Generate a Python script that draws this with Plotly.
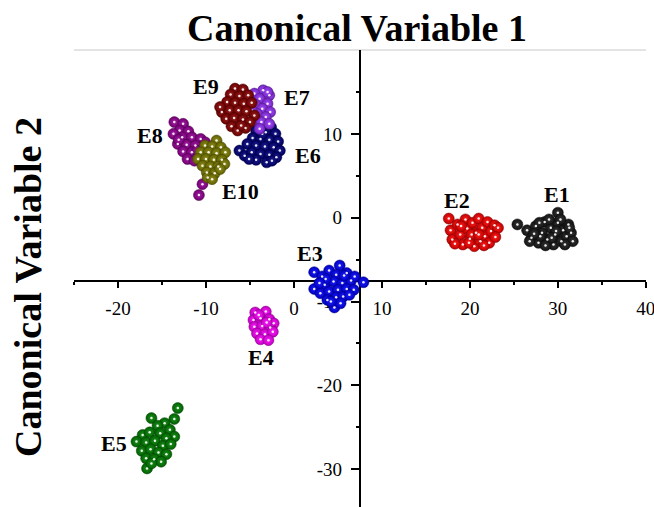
import plotly.graph_objects as go

# ---- data ----
groups = ["E1", "E2", "E3", "E4", "E5", "E6", "E7", "E8", "E9", "E10"]
colors = ["#1a1a1a", "#ff0000", "#0000ff", "#ff00ff", "#008000",
          "#000080", "#9933ff", "#990099", "#8b0000", "#808000"]

E1_x = [25.4, 26.5, 27.0, 27.5, 27.8, 28.2, 28.5, 28.8, 29.2, 29.5, 29.7, 30.0, 30.0, 30.4, 30.6,
        31.0, 31.2, 31.5, 31.7, 29.0, 28.0, 26.8, 27.3, 29.8, 30.8, 31.3, 28.6, 29.3, 30.3, 27.9]
E1_y = [-0.8, -1.5, -2.4, -1.0, -3.0, -1.8, -0.5, -2.6, -1.2, -3.2, -2.0, 0.6, -0.6, -2.8, -1.5,
        -2.2, -0.8, -1.8, -2.8, -0.2, -2.2, -2.8, -1.9, -1.6, -3.2, -1.2, -3.3, -2.4, -0.2, -0.6]

E2_x = [17.6, 17.8, 18.0, 18.6, 18.9, 19.2, 19.5, 19.7, 20.0, 20.3, 20.5, 20.7, 21.0, 21.2,
        21.4, 21.7, 22.0, 22.2, 22.4, 22.8, 23.2, 22.9, 19.0, 20.2, 21.6, 18.3, 19.9, 21.0]
E2_y = [-0.1, -1.5, -2.6, -0.8, -2.0, -3.2, -0.2, -1.3, -2.5, -0.6, -3.4, -1.8, -0.1, -2.8,
        -1.2, -2.2, -0.5, -3.0, -1.6, -0.9, -1.2, -2.3, -1.0, -2.0, -3.3, -3.1, -3.0, -2.0]

E3_x = [5.2, 4.0, 2.3, 3.2, 4.8, 6.0, 2.3, 3.5, 4.5, 5.5, 6.5, 7.9, 3.0, 4.0, 5.0, 6.0, 6.8,
        3.8, 4.8, 5.6, 4.6, 5.3, 3.6, 5.7, 6.3, 2.9, 4.2, 6.9]
E3_y = [-5.7, -6.3, -6.5, -7.0, -6.8, -6.6, -8.5, -8.0, -7.6, -7.8, -7.5, -7.7, -9.0, -8.8,
        -8.6, -8.5, -8.6, -9.8, -9.5, -9.4, -10.7, -10.2, -7.3, -6.9, -9.2, -7.8, -10.0, -7.0]

E4_x = [-4.4, -3.2, -4.6, -3.8, -2.8, -2.3, -4.5, -3.6, -2.7, -4.2, -3.3, -2.4, -3.8, -2.9, -4.0, -3.1]
E4_y = [-11.3, -11.2, -12.2, -12.0, -12.1, -12.6, -13.0, -12.9, -13.1, -13.8, -13.9, -13.6,
        -14.5, -14.6, -11.6, -12.5]

E5_x = [-13.2, -13.6, -16.2, -14.7, -15.5, -14.1, -13.6, -17.2, -17.9, -16.4, -15.2, -14.5,
        -16.8, -15.8, -14.9, -14.0, -17.3, -16.3, -15.4, -14.5, -16.8, -15.9, -15.1, -16.7, -16.2]
E5_y = [-22.7, -24.0, -23.9, -24.5, -24.8, -25.3, -26.1, -25.9, -26.7, -25.6, -25.7, -26.3,
        -26.8, -26.6, -27.2, -27.0, -27.8, -27.6, -28.0, -28.2, -28.7, -28.8, -29.1, -29.9, -29.3]

E6_x = [-3.7, -2.6, -4.3, -3.2, -2.1, -4.7, -3.8, -2.8, -1.8, -5.3, -4.3, -3.3, -2.3, -1.6,
        -6.2, -5.6, -4.8, -3.8, -2.8, -2.0, -4.3, -3.1, -5.1, -3.6, -2.5]
E6_y = [11.2, 10.8, 10.4, 10.2, 10.0, 9.5, 9.4, 9.3, 9.1, 8.8, 8.6, 8.5, 8.4, 8.0,
        8.0, 7.4, 7.8, 7.6, 7.5, 7.2, 6.9, 6.6, 7.0, 10.0, 6.8]

E7_x = [-3.5, -4.5, -2.8, -3.9, -3.0, -4.4, -3.6, -2.7, -4.2, -3.2, -4.6, -3.7, -2.8, -3.9, -4.8, -3.0]
E7_y = [15.2, 14.8, 14.6, 14.2, 13.6, 13.5, 13.0, 12.6, 12.4, 12.0, 11.6, 11.4, 11.2, 10.6, 12.8, 15.0]

E8_x = [-13.6, -12.6, -13.0, -12.0, -13.7, -12.7, -11.6, -10.6, -10.1, -13.2, -12.2, -11.2,
        -12.6, -11.6, -12.1, -11.3, -13.1, -11.0, -10.4, -10.8]
E8_y = [11.4, 11.2, 10.4, 10.3, 10.0, 9.6, 9.6, 9.4, 9.0, 8.8, 8.7, 8.6,
        7.9, 7.8, 7.0, 6.8, 9.3, 8.0, 4.0, 2.7]

E9_x = [-6.7, -5.8, -7.2, -6.2, -5.2, -7.6, -6.7, -5.7, -4.8, -8.2, -7.3, -6.3, -5.4, -4.5,
        -7.7, -6.8, -5.8, -5.0, -7.1, -6.4, -5.5, -8.4, -6.0]
E9_y = [15.4, 15.3, 14.7, 14.5, 14.6, 13.8, 13.7, 13.6, 13.7, 12.6, 12.8, 12.8, 12.7, 12.2,
        11.8, 11.9, 11.7, 11.4, 10.9, 10.4, 10.7, 13.2, 11.0]

E10_x = [-8.8, -10.1, -9.3, -8.3, -10.6, -9.7, -8.8, -7.8, -10.9, -10.0, -9.1, -8.2, -10.4,
         -9.5, -8.6, -7.9, -9.9, -9.0, -8.4, -9.8, -9.3]
E10_y = [9.2, 8.6, 8.5, 8.4, 7.8, 7.8, 7.7, 7.8, 7.0, 7.0, 6.9, 6.9, 6.2,
         6.1, 6.1, 6.4, 5.4, 5.3, 5.8, 4.8, 4.6]

xs = [E1_x, E2_x, E3_x, E4_x, E5_x, E6_x, E7_x, E8_x, E9_x, E10_x]
ys = [E1_y, E2_y, E3_y, E4_y, E5_y, E6_y, E7_y, E8_y, E9_y, E10_y]

# label anchor points (data units)
label_x = [29.9, 18.5, 1.8, -3.7, -20.4, 1.6, 0.4, -16.4, -10.0, -6.1]
label_y = [2.8, 2.0, -4.3, -16.7, -26.9, 7.4, 14.3, 9.8, 15.6, 3.1]

x_major = [-20, -10, 0, 10, 20, 30, 40]
x_minor = [-25, -15, -5, 5, 15, 25, 35]
y_major = [-30, -20, -10, 0, 10]
y_minor = [-25, -15, -5, 5, 15]

X_RANGE = [-25, 40.02]
Y_RANGE = [-34.5, 20]
X_CROSS = 7.5     # where the vertical axis crosses
Y_CROSS = -7.5    # where the horizontal axis crosses


def shade(hexcol, f):
    """f>0 lightens towards white, f<0 darkens towards black"""
    h = hexcol.lstrip("#")
    c = [int(h[i:i + 2], 16) for i in (0, 2, 4)]
    if f >= 0:
        c = [int(v + (255 - v) * f) for v in c]
    else:
        c = [int(v * (1 + f)) for v in c]
    return "rgb(%d,%d,%d)" % tuple(c)


fig = go.Figure()
for name, col, gx, gy in zip(groups, colors, xs, ys):
    fig.add_trace(go.Scatter(
        x=gx, y=gy, mode="markers", name=name, showlegend=False,
        marker=dict(size=11, color=shade(col, -0.25),
                    gradient=dict(type="radial", color=shade(col, 0.12)),
                    line=dict(width=0.5, color=shade(col, -0.5))),
    ))
    fig.add_trace(go.Scatter(
        x=gx, y=gy, mode="markers", showlegend=False, hoverinfo="skip",
        marker=dict(size=2.5, color="rgba(255,255,255,0.9)", line=dict(width=0)),
    ))

FIG_W, FIG_H = 654, 507
ML, MR, MT, MB = 74, 8, 50, 0
PW, PH = FIG_W - ML - MR, FIG_H - MT - MB


def px2paper_x(px):
    return (px - ML) / PW


def px2paper_y(py):
    return (FIG_H - MB - py) / PH


tickfont = dict(family="Liberation Serif, Times New Roman, serif", size=19, color="black")

fig.update_layout(
    width=FIG_W, height=FIG_H,
    margin=dict(l=ML, r=MR, t=MT, b=MB),
    paper_bgcolor="white", plot_bgcolor="white",
    xaxis=dict(
        range=X_RANGE, showgrid=False, zeroline=False,
        showline=True, linewidth=2, linecolor="black",
        anchor="free", position=(Y_CROSS - Y_RANGE[0]) / (Y_RANGE[1] - Y_RANGE[0]),
        tickmode="array", tickvals=x_major, ticktext=[str(v) for v in x_major],
        ticks="outside", ticklen=6, tickwidth=1.5, tickcolor="black",
        ticklabelstandoff=5, ticklabeloverflow="allow",
        minor=dict(tickmode="array", tickvals=x_minor, ticks="outside", ticklen=3,
                   tickwidth=1.5, tickcolor="black"),
        tickfont=tickfont, layer="below traces", fixedrange=True,
    ),
    yaxis=dict(
        range=Y_RANGE, showgrid=False, zeroline=False,
        showline=True, linewidth=2, linecolor="black",
        anchor="free", position=(X_CROSS - X_RANGE[0]) / (X_RANGE[1] - X_RANGE[0]),
        tickmode="array", tickvals=y_major, ticktext=[str(v) for v in y_major],
        ticks="outside", ticklen=8, tickwidth=1.5, tickcolor="black",
        ticklabelstandoff=5, ticklabeloverflow="allow",
        minor=dict(tickmode="array", tickvals=y_minor, ticks="outside", ticklen=3,
                   tickwidth=1.5, tickcolor="black"),
        tickfont=tickfont, layer="below traces", fixedrange=True,
    ),
    shapes=[dict(type="line", xref="paper", yref="paper", x0=0, x1=1, y0=1, y1=1,
                 line=dict(color="#c8c8c8", width=1), layer="below")],
)

labfont = dict(family="Liberation Serif, Times New Roman, serif", size=22, color="black")
annotations = []
for name, lx, ly in zip(groups, label_x, label_y):
    annotations.append(dict(x=lx, y=ly, xref="x", yref="y", text="<b>%s</b>" % name,
                            showarrow=False, font=labfont, xanchor="center", yanchor="middle"))

titlefont = dict(family="Liberation Serif, Times New Roman, serif", size=38, color="black")
annotations.append(dict(x=px2paper_x(357), y=px2paper_y(28), xref="paper", yref="paper",
                        text="<b>Canonical Variable 1</b>", showarrow=False, font=titlefont,
                        xanchor="center", yanchor="middle"))
annotations.append(dict(x=px2paper_x(28), y=px2paper_y(287), xref="paper", yref="paper",
                        text="<b>Canonical Variable 2</b>", showarrow=False, font=titlefont,
                        textangle=-90, xanchor="center", yanchor="middle"))
fig.update_layout(annotations=annotations)

fig.write_html("out.html")
